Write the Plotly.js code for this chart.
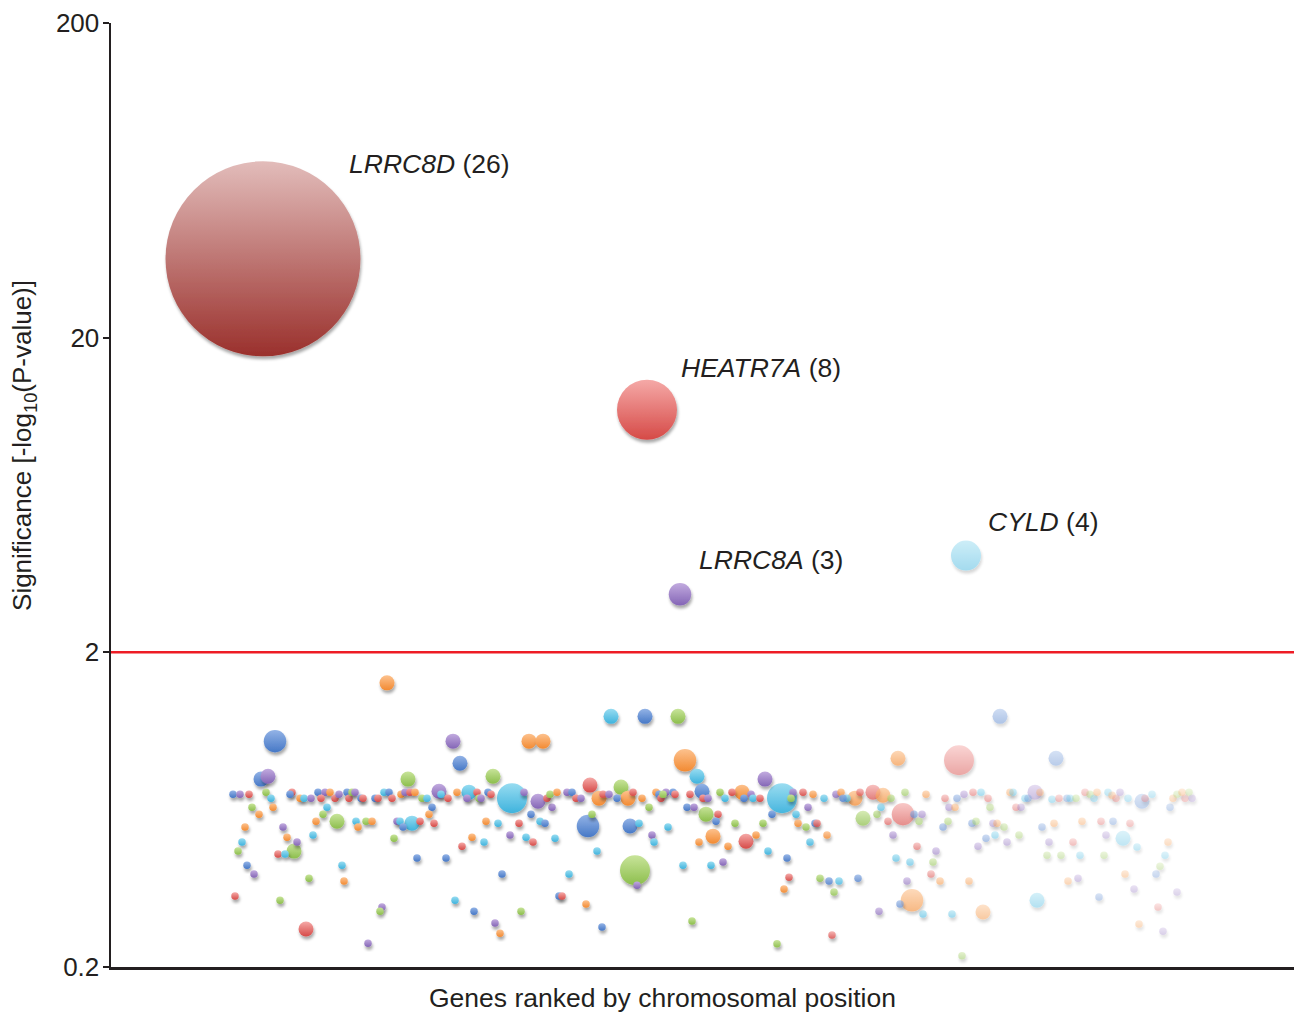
<!DOCTYPE html>
<html><head><meta charset="utf-8">
<script src="https://cdn.plot.ly/plotly-3.0.1.min.js"></script>
<style>
html,body{margin:0;padding:0;background:#fff;}
#chart{width:1294px;height:1012px;}
.scatterlayer .point{filter:url(#ds);}
</style></head><body>
<svg width="0" height="0" style="position:absolute"><defs>
<filter id="ds" x="-60%" y="-60%" width="220%" height="220%">
<feDropShadow dx="1" dy="3" stdDeviation="1.6" flood-color="#000" flood-opacity="0.34"/>
</filter></defs></svg>
<div id="chart"></div>
<script>
// Genes ranked by chromosomal position (rank), significance [-log10(P)], number of hits, colour group
const rank = [
152,536,569,855,276,164,342,418,432,349,
150,157,297,382,401,122,129,138,155,160,
141,162,148,134,131,127,136,143,124,169,
195,257,172,176,186,167,174,183,198,231,
233,271,269,181,179,189,193,200,207,214,
219,210,224,228,236,238,241,244,250,252,
264,267,273,278,281,290,294,299,304,311,
316,328,330,337,346,358,366,356,368,370,
377,380,413,427,216,212,205,226,202,245,
255,261,247,286,289,292,301,309,283,321,
318,323,306,335,351,361,373,375,387,408,
420,399,415,422,429,434,391,344,363,384,
389,410,500,534,567,574,586,591,479,510,
654,671,631,488,517,477,519,528,481,595,
607,605,602,635,645,617,588,524,526,486,
458,448,451,475,491,444,441,541,543,557,
538,531,572,600,612,581,666,721,676,657,
678,673,709,718,728,723,747,768,624,652,
685,661,687,695,704,706,716,699,697,576,
583,752,766,770,777,436,439,446,456,461,
465,470,492,498,506,522,545,548,555,562,
564,550,552,579,592,597,609,621,614,633,
640,642,649,682,692,680,702,713,725,730,
749,744,762,772,736,732,889,787,848,945,
792,789,801,812,841,872,851,926,1012,780,
794,815,834,846,853,862,870,877,879,838,
844,899,902,924,929,914,917,905,910,941,
948,956,959,965,974,979,983,986,997,1001,
1005,1009,1017,1031,1034,1041,1059,1062,1066,1071,
1078,1074,1081,803,811,808,782,806,825,822,
820,829,796,785,799,832,837,858,861,865,
882,886,893,884,875,867,896,908,931,943,
938,962,936,950,969,971,990,1002,1019,995,
1026,993,1057,1054,1049,1045,957,967,1014,1023,
988,1066,1047,1028,1052
];
const significance = [
35.6,11.8,3.06,4.06,1.60,1.044,1.044,1.044,1.044,0.888,
0.791,0.808,0.791,0.808,0.688,0.708,0.708,0.708,0.719,0.688,
0.644,0.644,0.612,0.557,0.499,0.467,0.421,0.395,0.336,0.326,
0.264,0.238,0.557,0.517,0.499,0.457,0.457,0.467,0.383,0.421,
0.375,0.310,0.301,0.719,0.708,0.688,0.688,0.688,0.719,0.719,
0.719,0.688,0.688,0.708,0.719,0.688,0.719,0.719,0.688,0.688,
0.688,0.688,0.719,0.719,0.688,0.708,0.719,0.719,0.719,0.688,
0.688,0.724,0.708,0.688,0.719,0.719,0.719,0.688,0.688,0.688,
0.719,0.708,0.719,0.673,0.644,0.612,0.581,0.581,0.525,0.581,
0.581,0.581,0.557,0.581,0.581,0.557,0.573,0.581,0.513,0.644,
0.612,0.573,0.444,0.444,0.484,0.517,0.499,0.581,0.573,0.573,
0.612,0.525,0.517,0.499,0.581,0.573,0.395,0.326,0.301,0.276,
0.256,0.301,1.252,1.252,1.252,0.908,0.808,0.724,0.757,0.746,
0.791,0.688,0.719,0.688,0.688,0.561,0.561,0.573,0.612,0.612,
0.612,0.581,0.521,0.502,0.525,0.484,0.499,0.406,0.364,0.467,
0.395,0.336,0.336,0.317,0.268,0.513,0.644,0.525,0.499,0.557,
0.644,0.688,0.421,0.421,0.431,0.280,0.237,0.253,0.444,0.467,
0.386,0.354,0.383,0.375,0.375,0.346,0.383,0.301,0.573,0.573,
0.612,0.612,0.573,0.557,0.573,0.573,0.525,0.499,0.644,0.644,
0.644,0.594,0.612,0.644,0.581,0.688,0.708,0.719,0.719,0.719,
0.688,0.688,0.708,0.708,0.688,0.719,0.719,0.708,0.719,0.719,
0.708,0.688,0.708,0.708,0.688,0.688,0.719,0.719,0.688,0.688,
0.708,0.688,0.688,0.719,0.719,0.688,0.708,0.688,0.708,0.719,
0.719,0.688,0.719,0.703,0.688,0.688,1.252,0.921,0.908,0.921,
0.612,0.317,0.326,0.295,0.295,0.299,0.217,0.326,0.513,0.688,
0.719,0.708,0.688,0.688,0.708,0.719,0.719,0.688,0.644,0.644,
0.644,0.719,0.719,0.719,0.719,0.688,0.688,0.644,0.644,0.683,
0.688,0.688,0.688,0.688,0.719,0.708,0.688,0.719,0.719,0.703,
0.688,0.719,0.688,0.673,0.688,0.708,0.644,0.688,0.708,0.719,
0.719,0.688,0.688,0.612,0.612,0.581,0.525,0.484,0.467,0.431,
0.395,0.375,0.375,0.444,0.431,0.557,0.581,0.375,0.573,0.581,
0.573,0.573,0.557,0.525,0.513,0.484,0.499,0.525,0.557,0.573,
0.499,0.499,0.453,0.453,0.453,0.581,0.581,0.581,0.573,0.525,
0.481,0.453,0.499,0.453,0.418,0.395,0.375,0.383,0.395,0.354,
0.334,0.346,0.310,0.274,0.260
];
const hits = [
26,8,3,4,2,3,2,2,2,2,
2,2,2,2,4,1,1,1,1,1,
1,1,1,1,1,1,1,1,1,1,
2,1,1,1,1,1,1,2,1,1,
1,1,1,1,1,1,1,1,1,1,
1,1,1,1,1,1,1,1,1,1,
1,1,1,1,1,1,1,1,1,1,
1,2,1,1,1,2,1,1,1,1,
1,1,1,2,1,1,1,2,1,1,
1,1,1,1,1,1,2,1,1,1,
1,1,1,1,1,1,1,1,1,1,
1,1,1,1,1,1,1,1,1,1,
1,1,2,2,2,3,2,2,2,2,
2,4,2,2,2,3,2,1,1,2,
1,1,2,2,1,1,1,4,1,1,
1,1,1,1,1,1,1,1,1,1,
1,1,1,1,1,1,1,1,1,1,
1,1,1,1,1,1,1,1,1,1,
1,1,1,1,1,1,1,1,1,1,
1,2,1,1,1,1,1,1,1,1,
1,1,1,1,1,1,1,1,1,1,
1,1,1,1,1,1,1,1,1,1,
1,1,1,1,1,1,1,1,1,1,
1,2,2,2,1,1,2,2,4,2,
3,1,3,1,1,2,1,2,2,1,
1,1,1,1,1,1,1,1,1,1,
1,1,1,2,1,1,1,1,1,1,
1,1,1,1,1,1,1,1,1,1,
1,1,1,2,1,1,1,1,1,1,
1,1,1,1,1,1,1,1,1,1,
1,1,1,1,1,1,1,1,1,1,
1,1,1,1,1,1,1,1,1,1,
1,1,1,1,1,1,1,1,1,1,
1,1,1,1,1,1,1,1,1,1,
1,1,1,1,1
];
const group = (
'DRPCOBPOOB'+'BPGGCBPRGC'+'GOOOCGBPRG'+'RPPOPRCGGC'+'OPGRBOCPBP'+
'ORRPBRGPBR'+'BRCBROPROG'+'CPCROCRPGP'+'BRPPCGOGCC'+'GOOPCBCRGB'+
'ORBBROCOCR'+'BPCRCBBCBP'+'OGCBGOCBRG'+'PCOOOBBCGG'+'RBOROOOGPC'+
'CBROBCPPCC'+'GOCCPGGRBC'+'ROGBCGBPGG'+'CBOGBROCPB'+'PGGCRRGOPB'+
'RPRPBROBPB'+'RRGRRPGRCB'+'PCRPRGOCPO'+'ROROCBBORB'+'RBOCCOGCCG'+
'GORBPRCRGP'+'OOCPOCBRPC'+'RBCGRGCOCO'+'RPCBRCBOGO'+'GRPBPGPRPG'+
'ROPCCBGOBG'+'POGCBPPGBO'+'PRGGCORBRP'+'CGOCGBOPOP'+'BPROP').split('');

// labelled genes: index into the arrays above
const labelIndex = [0, 1, 2, 3];
const labelGene  = ['LRRC8D', 'HEATR7A', 'LRRC8A', 'CYLD'];
const threshold = 2;
const yTicks = [0.2, 2, 20, 200];
const yTickText = ['0.2', '2', '20', '200'];
const xTitle = 'Genes ranked by chromosomal position';
const yTitle = 'Significance [-log<sub>10</sub>(P-value)]';

// ---- styling ----
const palette = {           // [top, bottom] of vertical gradient
  B: ['#93b3e6', '#4678c6'],
  R: ['#f5a9a7', '#d64a47'],
  G: ['#c8e49a', '#8cbe4c'],
  P: ['#c2abdf', '#8465b6'],
  C: ['#97dcf1', '#3fb3dd'],
  O: ['#fdc28e', '#f28a32'],
  D: ['#e2bcba', '#9a302c']
};
const fadeStops = [[0,1],[650,1],[700,0.9],[750,0.74],[800,0.6],[850,0.48],[950,0.37],[1090,0.28]];
function fade(r){
  for(let i=1;i<fadeStops.length;i++){
    const a=fadeStops[i-1], b=fadeStops[i];
    if(r<=b[0]) return a[1]+(b[1]-a[1])*(r-a[0])/(b[0]-a[0]);
  }
  return fadeStops[fadeStops.length-1][1];
}
// draw larger bubbles first so small ones stay visible
const order = rank.map((_,i)=>i).sort((a,b)=>hits[b]-hits[a]);
const pick = arr => order.map(i=>arr[i]);

const trace = {
  type:'scatter', mode:'markers',
  x: pick(rank), y: pick(significance),
  hoverinfo:'x+y',
  marker:{
    size: pick(hits), sizemode:'diameter', sizeref: 1/7.5,
    color: pick(group).map(g=>palette[g][0]),
    gradient:{type:'vertical', color: pick(group).map(g=>palette[g][1])},
    opacity: pick(rank).map(fade),
    line:{width:0}
  },
  cliponaxis:false
};

const FONT = 'Liberation Sans, Arial, Helvetica, sans-serif';
const annotations = labelIndex.map((idx,k)=>({
  x: rank[idx], y: Math.log10(significance[idx]), xref:'x', yref:'y',
  text: '<i>'+labelGene[k]+'</i> ('+hits[idx]+')',
  showarrow:false, xanchor:'left', yanchor:'middle',
  xshift: [84,32,17,20][k], yshift: [95,42,34,34][k],
  font:{family:FONT, size:26.5, color:'#231f20'}
}));
annotations.push({
  text: xTitle, xref:'paper', yref:'paper', x:0.4665, y:-0.033,
  xanchor:'center', yanchor:'middle', showarrow:false,
  font:{family:FONT, size:26.5, color:'#231f20'}
});
annotations.push({
  text: yTitle, xref:'paper', yref:'paper', x:-0.0735, y:0.552, textangle:-90,
  xanchor:'center', yanchor:'middle', showarrow:false,
  font:{family:FONT, size:26, color:'#231f20'}
});

const layout = {
  width:1294, height:1012,
  margin:{l:111, r:0, t:23, b:45, pad:0},
  paper_bgcolor:'#fff', plot_bgcolor:'#fff',
  showlegend:false,
  font:{family:FONT, color:'#231f20'},
  xaxis:{
    range:[0,1183], showgrid:false, zeroline:false, showticklabels:false, ticks:'',
    showline:true, linecolor:'#231f20', linewidth:2.5, fixedrange:true
  },
  yaxis:{
    type:'log', range:[Math.log10(0.2), Math.log10(200)],
    tickmode:'array', tickvals:yTicks, ticktext:yTickText,
    ticks:'outside', ticklen:6, tickwidth:2, tickcolor:'#231f20',
    ticklabelstandoff:-2,
    showline:true, linecolor:'#231f20', linewidth:2.5,
    showgrid:false, zeroline:false, fixedrange:true,
    tickfont:{family:FONT, size:26, color:'#231f20'}
  },
  shapes:[{type:'line', xref:'paper', x0:0, x1:1, yref:'y', y0:threshold, y1:threshold,
           line:{color:'#ee1c25', width:2.5}}],
  annotations: annotations
};

Plotly.newPlot('chart', [trace], layout, {displayModeBar:false, staticPlot:true});
</script>
</body></html>
